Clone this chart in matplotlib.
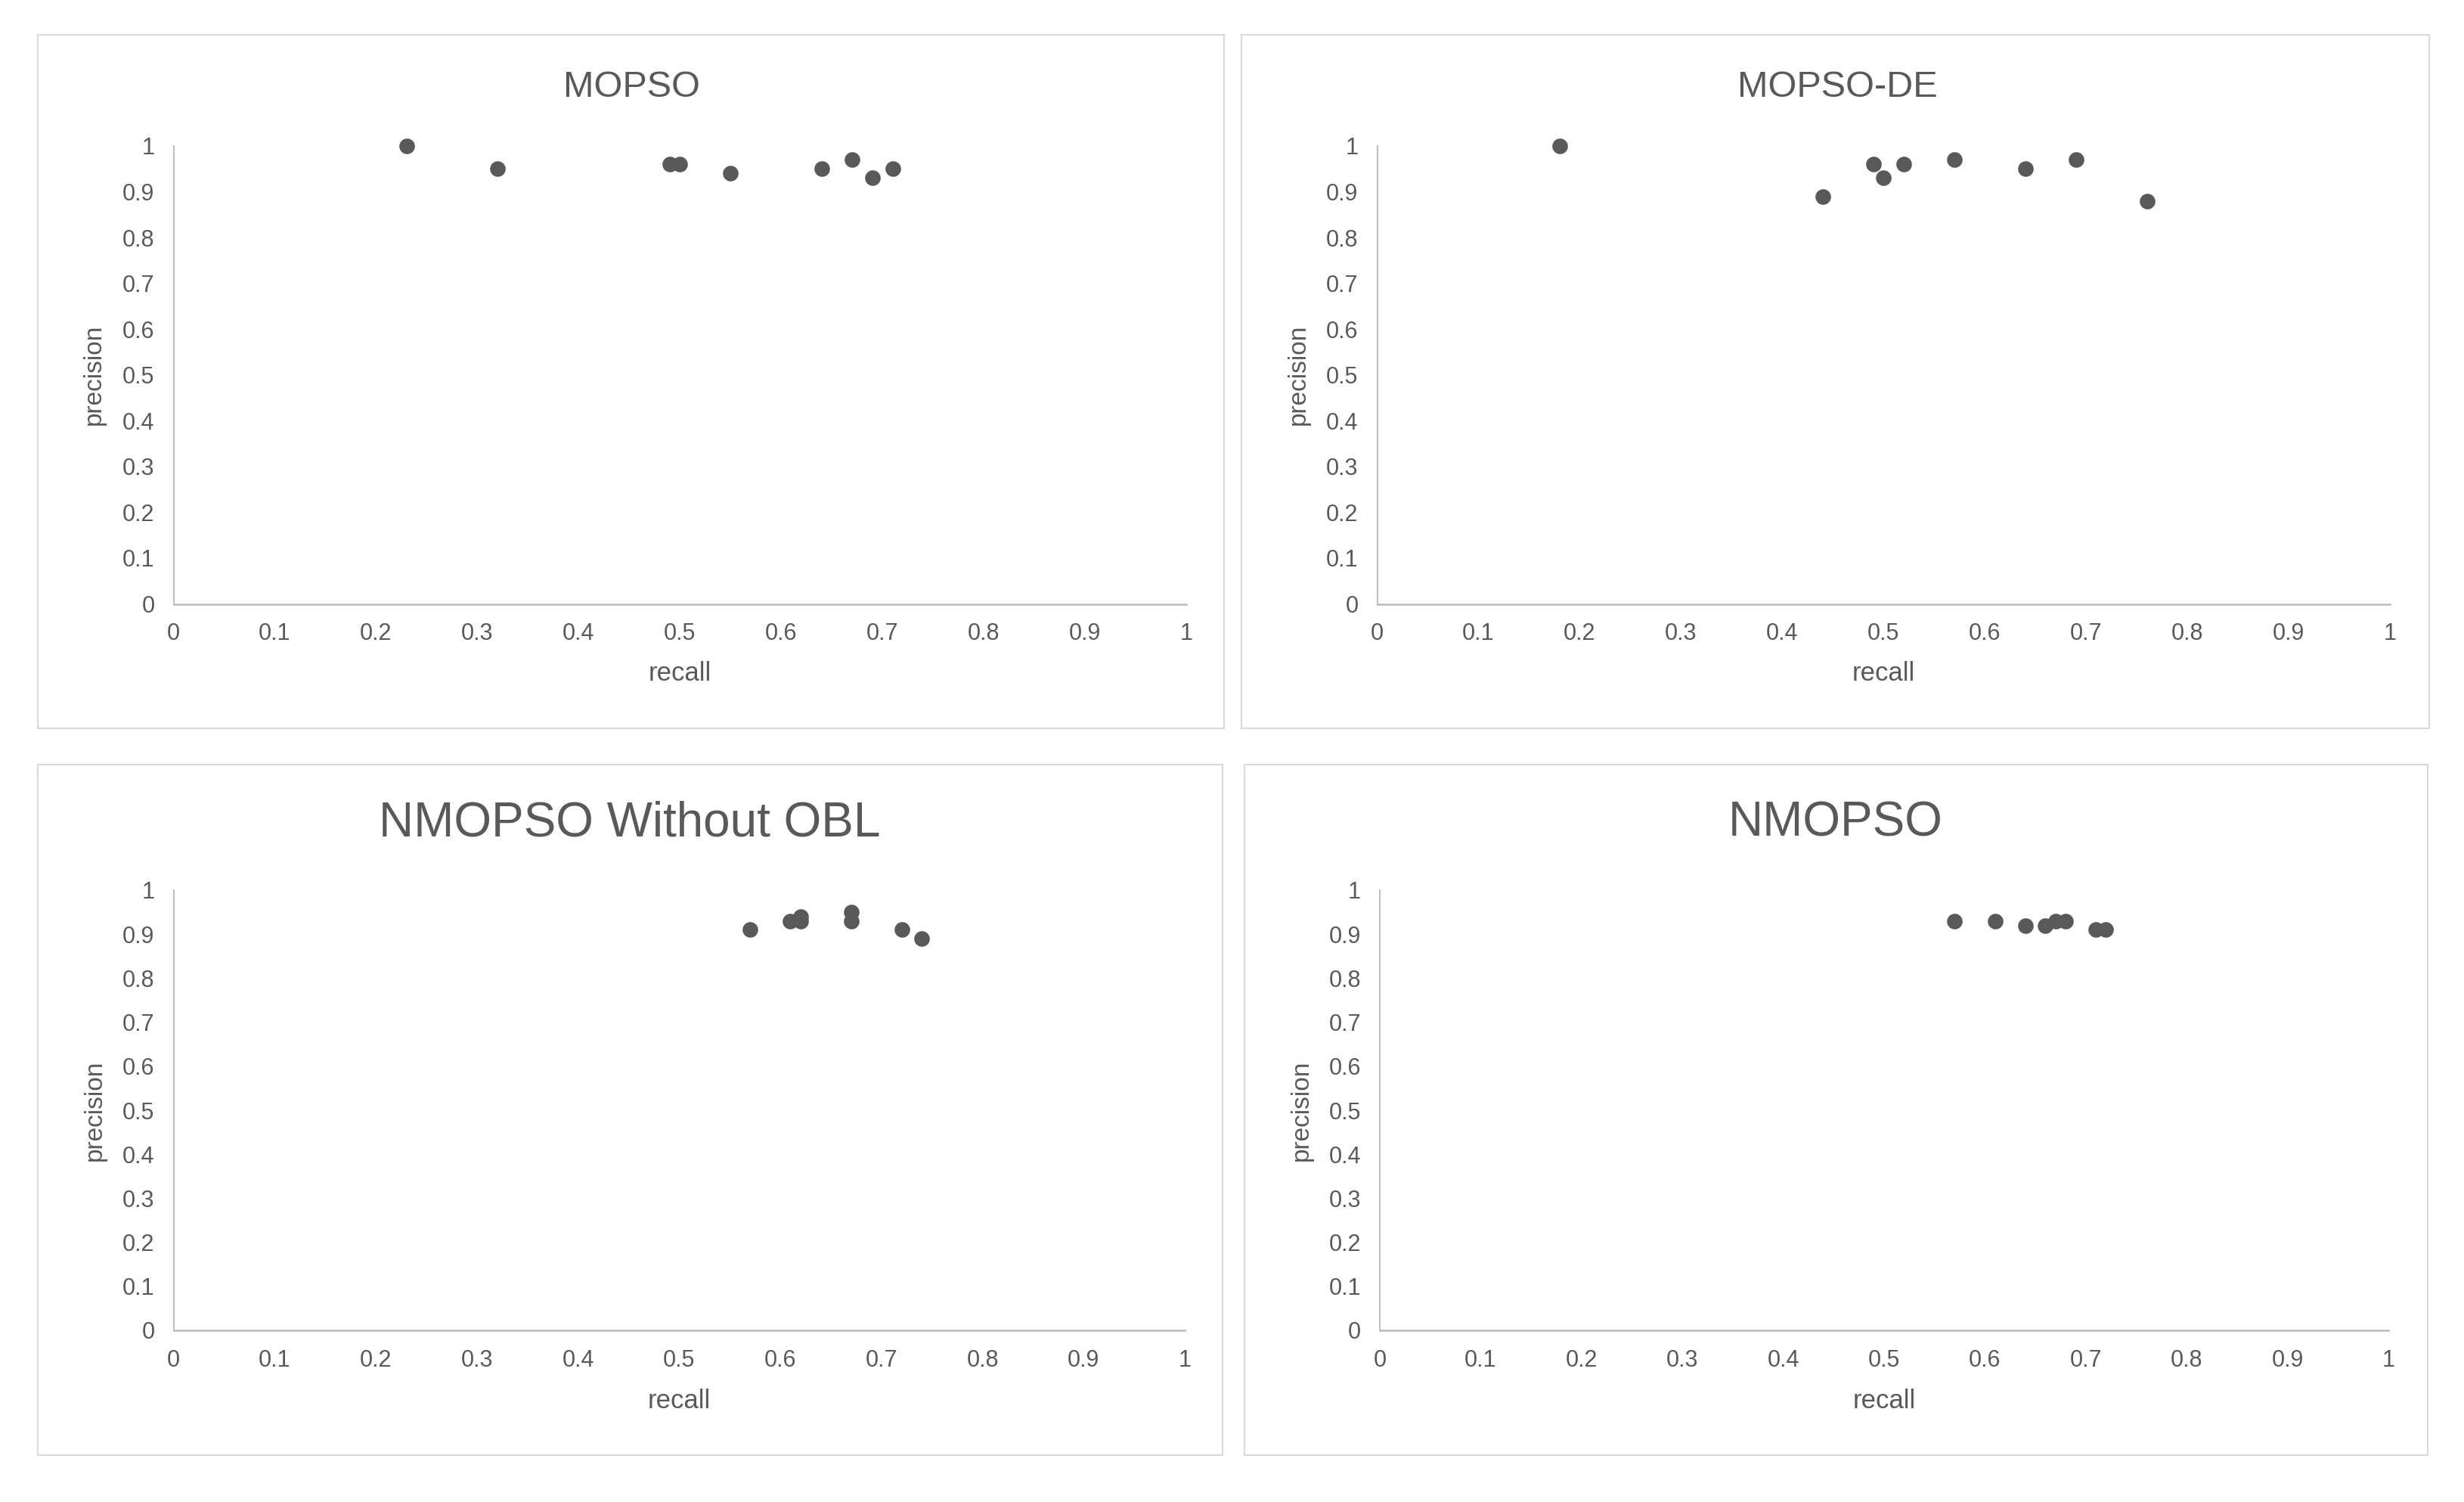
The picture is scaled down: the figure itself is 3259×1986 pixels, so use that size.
import matplotlib
matplotlib.use("Agg")
from matplotlib import pyplot as plt
from matplotlib.patches import Rectangle
import numpy as np

plt.rcParams['font.family'] = ['Liberation Sans', 'DejaVu Sans']

# data
titles = ["MOPSO", "MOPSO-DE", "NMOPSO Without OBL", "NMOPSO"]
recall_mopso = [0.23, 0.32, 0.49, 0.50, 0.55, 0.64, 0.67, 0.69, 0.71]
precision_mopso = [1.00, 0.95, 0.96, 0.96, 0.94, 0.95, 0.97, 0.93, 0.95]
recall_mopsode = [0.18, 0.44, 0.49, 0.50, 0.52, 0.57, 0.64, 0.69, 0.76]
precision_mopsode = [1.00, 0.89, 0.96, 0.93, 0.96, 0.97, 0.95, 0.97, 0.88]
recall_noobl = [0.57, 0.61, 0.62, 0.62, 0.67, 0.67, 0.72, 0.74]
precision_noobl = [0.91, 0.93, 0.94, 0.93, 0.95, 0.93, 0.91, 0.89]
recall_nmopso = [0.57, 0.61, 0.64, 0.66, 0.67, 0.68, 0.71, 0.72]
precision_nmopso = [0.93, 0.93, 0.92, 0.92, 0.93, 0.93, 0.91, 0.91]
ticks = np.round(np.arange(0, 1.01, 0.1), 1)
tick_labels = ["0", "0.1", "0.2", "0.3", "0.4", "0.5", "0.6", "0.7", "0.8", "0.9", "1"]

series = [(recall_mopso, precision_mopso), (recall_mopsode, precision_mopsode),
          (recall_noobl, precision_noobl), (recall_nmopso, precision_nmopso)]

W, H = 3259, 1986
fig = plt.figure(figsize=(W/100, H/100), dpi=100)
txt = '#595959'

# panel boxes, axes boxes, title pos, title size, ylabel x, xlabel y (pixels)
boxes = [(50, 46, 1619, 963), (1642, 46, 3213, 963), (50, 1011, 1617, 1924), (1646, 1011, 3211, 1924)]
axboxes = [(229.5, 193, 1569, 798.5), (1821.5, 193, 3161, 798.5), (229.5, 1177, 1567, 1759), (1825, 1177, 3159, 1759)]
title_pos = [(835, 116), (2430, 116), (833, 1089), (2428, 1089)]
title_size = [35, 35, 46, 46]
ylab_x = [124, 1717, 125, 1721]
xlab_y = [890, 890, 1853, 1853]

for i in range(4):
    x1, y1, x2, y2 = boxes[i]
    fig.add_artist(Rectangle((x1/W, 1-y2/H), (x2-x1)/W, (y2-y1)/H, transform=fig.transFigure,
                             fill=False, ec='#d9d9d9', lw=1.5))
    a1, b1, a2, b2 = axboxes[i]
    ax = fig.add_axes([a1/W, 1-b2/H, (a2-a1)/W, (b2-b1)/H])
    ax.scatter(series[i][0], series[i][1], s=220, color=txt, zorder=3, clip_on=False, linewidths=0)
    ax.set_xlim(0, 1)
    ax.set_ylim(0, 1)
    ax.set_xticks(ticks)
    ax.set_xticklabels(tick_labels)
    ax.set_yticks(ticks)
    ax.set_yticklabels(tick_labels)
    ax.tick_params(length=0, labelsize=22, labelcolor=txt, pad=18)
    for s in ['top', 'right']:
        ax.spines[s].set_visible(False)
    ax.spines['left'].set_color('#bfbfbf')
    ax.spines['bottom'].set_color('#bfbfbf')
    ax.spines['left'].set_linewidth(1.5)
    ax.spines['bottom'].set_linewidth(2)
    tx, ty = title_pos[i]
    fig.text(tx/W, 1-ty/H, titles[i], ha='center', va='center', fontsize=title_size[i], color=txt)
    fig.text(ylab_x[i]/W, 1-(b1+b2)/2/H, "precision", rotation=90, ha='center', va='center',
             fontsize=24, color=txt)
    fig.text((a1+a2)/2/W, 1-xlab_y[i]/H, "recall", ha='center', va='center', fontsize=25, color=txt)

plt.savefig("out.png", dpi=100)
